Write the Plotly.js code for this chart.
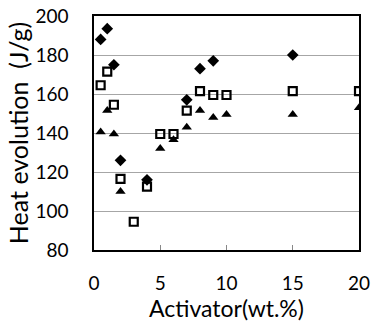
<!DOCTYPE html>
<html><head><meta charset="utf-8">
<script src="https://cdn.plot.ly/plotly-3.0.1.min.js"></script>
<style>html,body{margin:0;padding:0;background:#fff}#c{width:371px;height:323px}</style>
</head><body><div id="c"></div>
<script>
const diamondX = [0.5, 1, 1.5, 2, 4, 7, 8, 9, 15];
const diamondY = [188, 193.5, 175, 126, 116, 157, 173, 177, 180];
const squareX = [0.5, 1, 1.5, 2, 3, 4, 5, 6, 7, 8, 9, 10, 15, 20];
const squareY = [164.5, 171.5, 154.5, 116.5, 94.5, 112.5, 139.5, 139.5, 151.5, 161.5, 159.5, 159.5, 161.5, 161.5];
const triangleX = [0.5, 1, 1.5, 2, 5, 6, 7, 8, 9, 10, 15, 20];
const triangleY = [140.5, 151.5, 139.5, 110, 132, 136.5, 143, 151.5, 148, 149.5, 149.5, 153];
const xTitle = "Activator(wt.%)";
const yTitle = "Heat evolution  (J/g)";

const font = "Lato, 'Open Sans', sans-serif";
const traces = [
  {x: diamondX, y: diamondY, mode: 'markers', type: 'scatter',
   marker: {symbol: 'diamond', size: 9, color: '#000'}},
  {x: squareX, y: squareY, mode: 'markers', type: 'scatter',
   marker: {symbol: 'square-open', size: 8, color: '#000', line: {width: 2.2, color: '#000'}}},
  {x: triangleX, y: triangleY, mode: 'markers', type: 'scatter',
   marker: {symbol: 'triangle-up', size: 9, color: '#000'}}
];
const layout = {
  width: 371, height: 323,
  margin: {l: 94, r: 12, t: 16, b: 73},
  showlegend: false,
  paper_bgcolor: '#fff', plot_bgcolor: '#fff',
  font: {family: font, color: '#000', size: 19},
  xaxis: {range: [0, 20], dtick: 5, tick0: 0, showgrid: false, zeroline: false,
    showline: true, linecolor: '#000', linewidth: 1.6, mirror: true,
    ticks: 'inside', ticklen: 5, tickcolor: '#888', tickwidth: 1,
    ticklabelstandoff: 16,
    title: {text: xTitle, font: {size: 23, family: font}, standoff: 6}},
  yaxis: {range: [80, 200], dtick: 20, tick0: 80, showgrid: true, gridcolor: '#a6a6a6', gridwidth: 1,
    zeroline: false, showline: true, linecolor: '#000', linewidth: 1.6, mirror: true,
    ticks: '', ticklabelstandoff: 20,
    title: {text: yTitle, font: {size: 25, family: font}, standoff: 0}}
};
Plotly.newPlot('c', traces, layout, {displayModeBar: false, staticPlot: true});
</script></body></html>
